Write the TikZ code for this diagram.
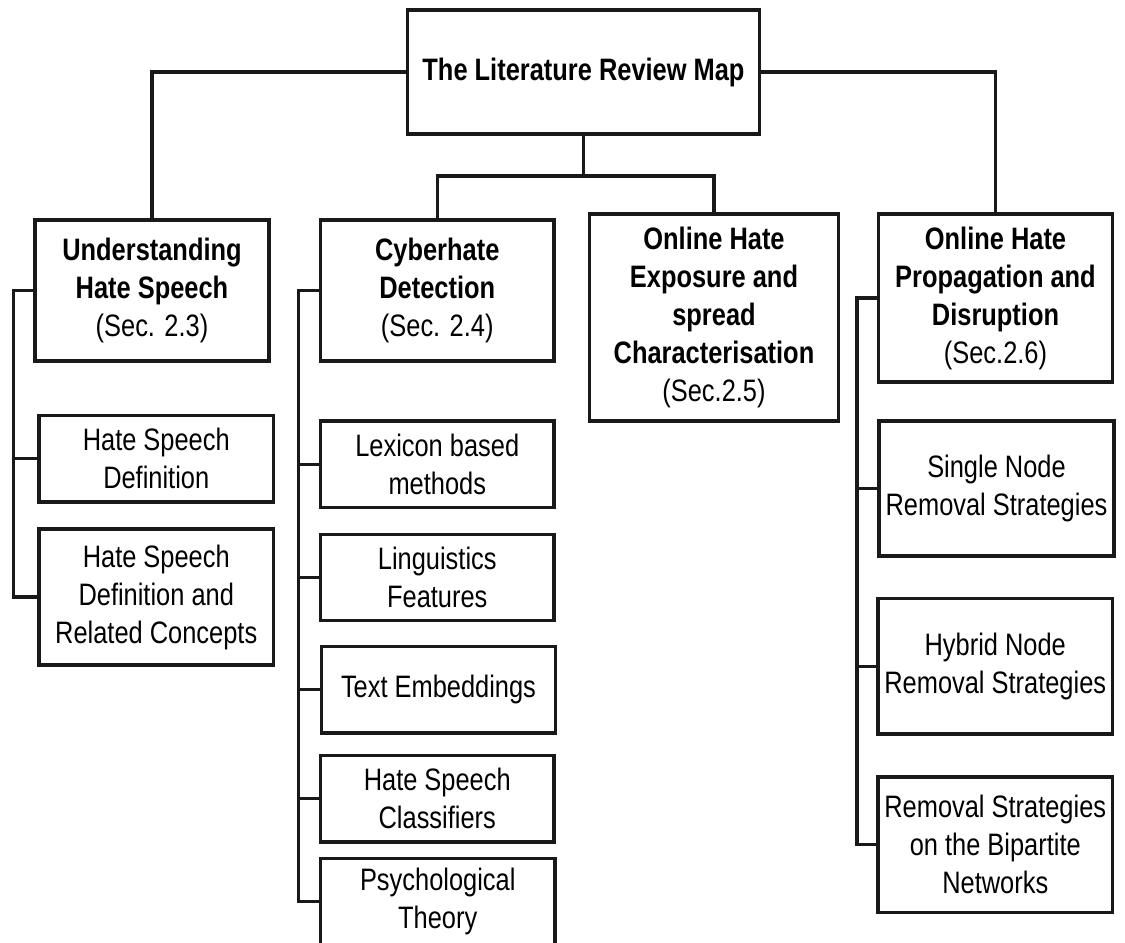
\documentclass[tikz,border=0pt]{standalone}
\usepackage{fontspec}
\IfFontExistsTF{Liberation Sans Narrow}
  {\setmainfont{Liberation Sans Narrow}}
  {\setmainfont{Liberation Sans}[FakeStretch=0.82]}
\begin{document}
\begin{tikzpicture}[x=1bp,y=-1bp,
  box/.style 2 args={draw=black!90, line width=3.4bp, align=center, inner sep=0pt,
    minimum width=#1bp, minimum height=#2bp, text=black,
    font=\fontsize{31bp}{38bp}\selectfont},
  head/.style={font=\fontsize{31bp}{38bp}\selectfont\bfseries},
  link/.style={draw=black!90, line width=3.4bp}]
\clip (0,0) rectangle (1125,943);
\fill[white] (0,0) rectangle (1125,943);

% root
\node[box={352}{124}, head] (root) at (583.5,72) {The Literature Review Map};

% main sections
\node[box={234}{141}] (und) at (152,290.5)
  {\bfseries Understanding\\\bfseries Hate Speech\\(Sec. 2.3)};
\node[box={233.5}{141}] (cyb) at (437.25,290.5)
  {\bfseries Cyberhate\\\bfseries Detection\\(Sec. 2.4)};
\node[box={249}{207}] (exp) at (714,317.5)
  {\bfseries Online Hate\\\bfseries Exposure and\\\bfseries spread\\\bfseries Characterisation\\(Sec.2.5)};
\node[box={234}{168}] (prop) at (995.5,298)
  {\bfseries Online Hate\\\bfseries Propagation and\\\bfseries Disruption\\(Sec.2.6)};

% understanding hate speech
\node[box={234.5}{86.5}] (hsd) at (156.25,458.75) {Hate Speech\\Definition};
\node[box={234.5}{136}] (hsdrc) at (156.25,597) {Hate Speech\\Definition and\\Related Concepts};

% cyberhate detection
\node[box={233.5}{86.5}] (lex) at (437.25,464.25) {Lexicon based\\methods};
\node[box={233.5}{86}] (ling) at (437.25,577.5) {Linguistics\\Features};
\node[box={234}{86.5}] (temb) at (438.5,689.75) {Text Embeddings};
\node[box={233.5}{86.5}] (hsc) at (437.25,798.75) {Hate Speech\\Classifiers};
\node[box={234.5}{86}] (psy) at (437.75,901.5) {Psychological\\Theory};

% propagation and disruption
\node[box={235}{135}] (single) at (996.5,488.5) {Single Node\\Removal Strategies};
\node[box={234.5}{135.5}] (hybrid) at (995.25,666.25) {Hybrid Node\\Removal Strategies};
\node[box={234.5}{135.5}] (bip) at (995.25,844.75) {Removal Strategies\\on the Bipartite\\Networks};

% trunks of the side branches
\coordinate (ut) at (13.5,0);
\coordinate (ct) at (298.5,0);
\coordinate (pt) at (857,0);
\coordinate (mid) at (583.5,176);

% root to sections
\draw[link] (root.west) -| (und.north);
\draw[link] (root.east) -| (prop.north);
\draw[link] (root.south) -- (mid);
\draw[link] (mid) -| (cyb.north);
\draw[link] (mid) -| (exp.north);

% understanding hate speech branch
\draw[link] (und.west) -| (ut |- hsdrc.west) -- (hsdrc.west);
\draw[link] (hsd.west) -- (hsd.west -| ut);

% cyberhate detection branch
\draw[link] (cyb.west) -| (ct |- psy.west) -- (psy.west);
\draw[link] (lex.west) -- (lex.west -| ct);
\draw[link] (ling.west) -- (ling.west -| ct);
\draw[link] (temb.west) -- (temb.west -| ct);
\draw[link] (hsc.west) -- (hsc.west -| ct);

% propagation and disruption branch
\draw[link] (prop.west) -| (pt |- bip.west) -- (bip.west);
\draw[link] (single.west) -- (single.west -| pt);
\draw[link] (hybrid.west) -- (hybrid.west -| pt);
\end{tikzpicture}
\end{document}
